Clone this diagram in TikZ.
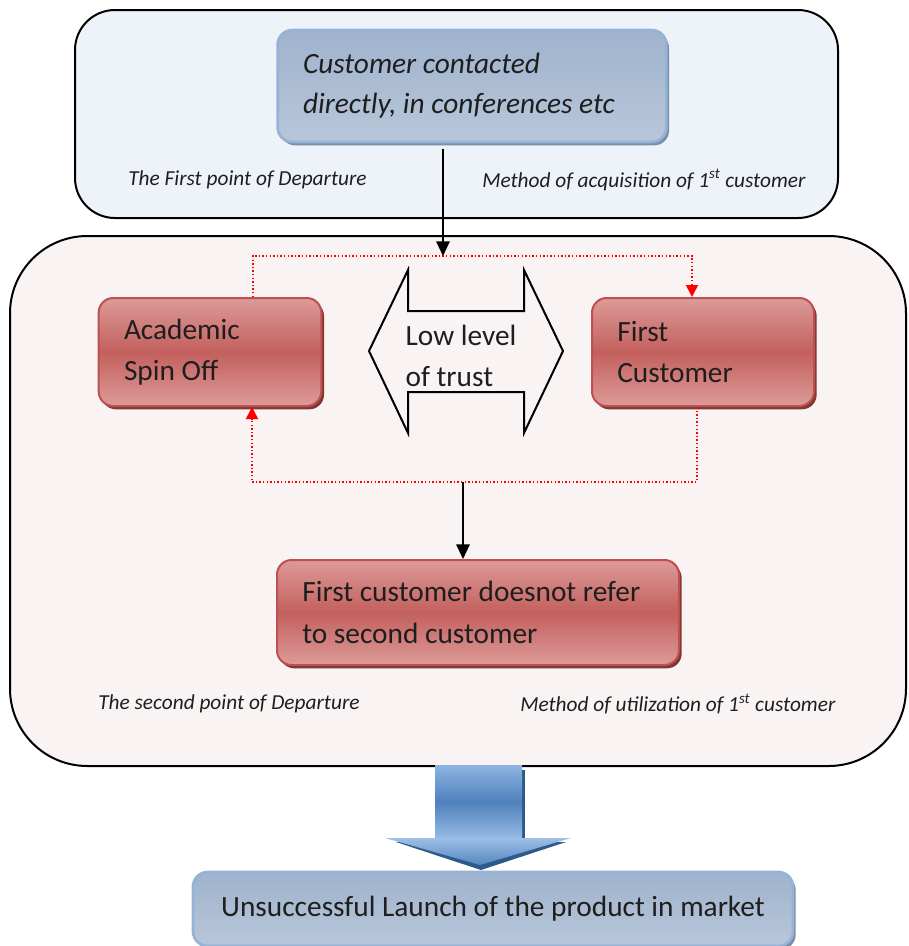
\documentclass[tikz,border=0pt]{standalone}
\usepackage{fontspec}
\setmainfont{Carlito}
\usetikzlibrary{arrows.meta,shadows,calc}
\definecolor{topbg}{HTML}{EEF3FA}
\definecolor{midbg}{HTML}{F9F3F3}
\definecolor{redA}{HTML}{DC9B99}
\definecolor{redB}{HTML}{C3605D}
\definecolor{redEdge}{HTML}{C0504D}
\definecolor{redShadow}{HTML}{7F3836}
\definecolor{blueA}{HTML}{9FB3CD}
\definecolor{blueB}{HTML}{B8C6D9}
\definecolor{blueEdge}{HTML}{95B3D7}
\definecolor{blueShadow}{HTML}{7C8EA6}
\definecolor{arrL}{HTML}{8DB4E2}
\definecolor{arrD}{HTML}{4F81BD}
\definecolor{arrS}{HTML}{2E5A8A}
\definecolor{txt}{HTML}{1E1E1E}
\begin{document}
\begin{tikzpicture}[x=0.75pt,y=-0.75pt,
  panel/.style={draw=black,line width=1.5pt,rounded corners=#1},
  maintext/.style={font=\fontsize{22}{31}\selectfont,text=txt},
  redbox/.style={draw=redEdge,line width=1.5pt,rounded corners=11pt,
    top color=redA,bottom color=redA,middle color=redB,
    drop shadow={shadow xshift=2pt,shadow yshift=-2.5pt,fill=redShadow,opacity=1},
    align=flush left,inner xsep=19pt,inner ysep=2pt,maintext},
  bluebox/.style={draw=blueEdge,line width=2pt,rounded corners=11pt,
    top color=blueA,bottom color=blueB,
    drop shadow={shadow xshift=2pt,shadow yshift=-2.5pt,fill=blueShadow,opacity=1},
    inner ysep=2pt,maintext},
  lbl/.style={font=\itshape\fontsize{16}{19}\selectfont,anchor=west,inner sep=0pt,text=txt},
  blk/.style={draw=black,line width=1.5pt,-{Triangle[width=10pt,length=11pt]}},
  reddot/.style={draw=red,line width=1.2pt,dash pattern=on 1.1pt off 1.6pt,
    -{Triangle[width=9pt,length=9pt,fill=red]}},
]
\useasboundingbox (0,0) rectangle (908,946);

% panels
\draw[panel=30pt,fill=topbg] (75,10) rectangle (838,218);
\draw[panel=58pt,fill=midbg] (10,236) rectangle (906,766);

% top node
\node[bluebox,align=flush left,inner xsep=19pt,text width=253.5pt,minimum height=84pt,font=\itshape\fontsize{22}{30}\selectfont]
  (cust) at (472,86) {Customer contacted\\directly, in conferences etc};
\node[lbl] (fp) at (128,180) {The First point of Departure};
\node[lbl] (ma) at (482,180) {Method of acquisition of 1\textsuperscript{st} customer};

% red boxes
\node[redbox,text width=129pt,minimum height=81pt] (acad) at (210,352) {Academic\\Spin Off};
\node[redbox,text width=128.5pt,minimum height=81pt] (fc) at (703,352) {First\\Customer};
\node[redbox,text width=263.5pt,minimum height=78.75pt] (rb) at (478,612.5) {First customer doesnot refer\\to second customer};

% double arrow
\draw[line width=1.5pt,fill=midbg,line join=miter]
  (369,351) -- (408,270) -- (408,311) -- (524,311) -- (524,270) -- (563,351)
  -- (524,433) -- (524,392) -- (408,392) -- (408,433) -- cycle;
\node[maintext,align=flush left,inner sep=0pt] (trust) at (461,356) {Low level\\of trust};

% connectors
\coordinate (j1) at (443,256);
\coordinate (tl) at (253,256);
\coordinate (tr) at (692,256);
\coordinate (br) at (697,482);
\coordinate (bl) at (252,482);
\coordinate (j2) at (463,482);
\draw[reddot] (acad.north -| tl) -- (tl) -- (tr) -- (fc.north -| tr);
\draw[reddot] (fc.south -| br) -- (br) -- (bl) -- (acad.south -| bl);
\draw[blk] (cust.south -| j1) ++(0,6) -- (j1);
\draw[blk] (j2) -- (rb.north -| j2);

\node[lbl] (sp) at (98,704) {The second point of Departure};
\node[lbl] (mu) at (520,704) {Method of utilization of 1\textsuperscript{st} customer};

% big block arrow
\fill[arrS] (522,770) rectangle (525,838);
\fill[arrS] (396,842) -- (566,842) -- (481,870) -- cycle;
\shade[top color=arrL,bottom color=arrL!90!white,middle color=arrD] (435,765) rectangle (522,839);
\shade[top color=arrL!85!white,bottom color=arrD!90!arrL] (385,838) -- (571,838) -- (480,865) -- cycle;

% bottom node
\node[bluebox,minimum width=450pt,minimum height=55.5pt] (launch) at (493,909) {Unsuccessful Launch of the product in market};
\end{tikzpicture}
\end{document}
